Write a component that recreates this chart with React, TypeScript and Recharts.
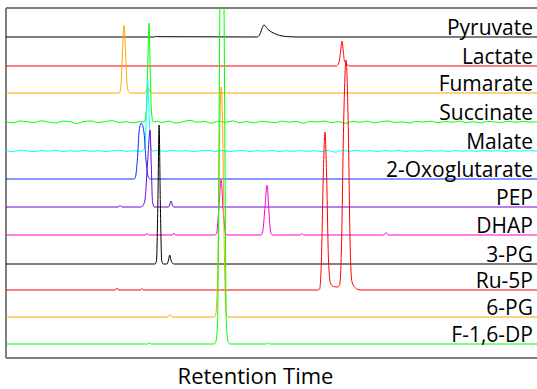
import * as React from 'react';
import { LineChart, Line, XAxis, YAxis, ReferenceLine } from 'recharts';

type Pt = [number, number]; // [retention time (min), signal]

// trace names, bottom to top
const NAMES = ['F-1,6-DP', '6-PG', 'Ru-5P', '3-PG', 'DHAP', 'PEP', '2-Oxoglutarate', 'Malate', 'Succinate', 'Fumarate', 'Lactate', 'Pyruvate'];
const COLORS = ['#00ff00', '#ffa500', '#ff0000', '#000000', '#ff00cc', '#7000e0', '#0033ff', '#00ffff', '#00ff00', '#ffa500', '#ff0000', '#000000'];
// baseline offset of each stacked trace
const OFFSETS = [0, 27, 54, 80, 109, 137, 165, 193, 222, 251, 278, 307];

const f16dp: Pt[] = [[0, 0], [8.0, 0], [8.08, 1], [8.2, 0], [11.75, 0], [11.85, 2], [11.95, 20], [12.05, 250], [12.1, 400], [12.2, 800], [12.3, 400], [12.35, 250], [12.45, 20], [12.55, 2], [12.65, 0], [14.7, 0], [14.78, 1.2], [14.9, 0], [30, 0]];
const pg6: Pt[] = [[0, 0], [9.15, 0], [9.27, 2.5], [9.4, 0], [11.75, 0], [11.85, 3], [11.98, 60], [12.08, 190], [12.16, 230], [12.24, 190], [12.34, 60], [12.44, 3], [12.55, 0], [30, 0]];
const ru5p: Pt[] = [[0, 0], [6.18, 0], [6.27, 2], [6.36, 0], [7.6, 0], [7.68, 1.5], [7.76, 0], [17.6, 0], [17.72, 1], [17.82, 30], [17.92, 110], [18.02, 158], [18.12, 110], [18.22, 30], [18.33, 7], [18.5, 3.5], [18.7, 3], [18.85, 5], [18.95, 40], [19.08, 170], [19.21, 230], [19.33, 170], [19.45, 40], [19.55, 8], [19.75, 2], [20.0, 0], [30, 0]];
const pg3: Pt[] = [[0, 0], [8.42, 0], [8.5, 3], [8.58, 60], [8.65, 139], [8.72, 60], [8.8, 3], [8.88, 0], [9.1, 0], [9.18, 4], [9.25, 9], [9.32, 4], [9.42, 0.5], [9.5, 0], [30, 0]];
const dhap: Pt[] = [[0, 0], [7.88, 0], [7.97, 1.5], [8.06, 0], [9.4, 0], [9.49, 2], [9.58, 0], [11.8, 0], [11.9, 2], [12.02, 25], [12.15, 55], [12.27, 25], [12.4, 2], [12.5, 0], [14.4, 0], [14.5, 3], [14.62, 25], [14.75, 50], [14.85, 25], [14.95, 3], [15.05, 0], [16.62, 0], [16.72, 1.5], [16.82, 0], [21.35, 0], [21.47, 2.5], [21.6, 0], [30, 0]];
const pep: Pt[] = [[0, 0], [6.35, 0], [6.44, 1.5], [6.55, 0], [7.6, 0], [7.72, 1], [7.85, 7], [8.0, 45], [8.14, 77], [8.21, 40], [8.28, 5], [8.38, 0], [9.18, 0], [9.26, 3], [9.32, 6], [9.38, 3], [9.48, 0], [30, 0]];
const oxoglutarate: Pt[] = [[0, 0], [7.22, 0], [7.3, 1], [7.42, 19], [7.53, 49], [7.64, 56], [7.8, 46], [7.91, 19], [8.04, 2], [8.15, 0], [30, 0]];
const malate: Pt[] = [[0, 0.3], [0.4, -0.5], [0.8, 0.8], [1.2, 0], [1.6, -0.6], [2.0, 0.5], [2.4, -0.2], [2.8, 0.7], [3.2, -0.5], [3.6, 0.2], [4.0, -0.4], [4.4, 0.6], [4.8, -0.3], [5.2, 0.4], [5.6, -0.6], [6.0, 0.3], [6.4, 0.7], [6.8, -0.4], [7.2, 0.2], [7.6, -0.3], [7.75, 0], [7.87, 10], [7.95, 45], [8.01, 71], [8.07, 45], [8.14, 10], [8.25, 0], [8.6, 0.5], [9.0, -0.4], [9.4, 0.6], [9.8, -0.2], [10.2, 0.4], [10.6, -0.7], [11.0, 0.3], [11.4, 0.6], [11.8, -0.4], [12.2, 0.5], [12.6, -0.8], [13.0, 0.2], [13.4, 0.5], [13.8, -0.5], [14.2, 0.3], [14.6, -0.2], [15.0, 0.6], [15.4, -0.5], [15.8, 0.2], [16.2, -0.3], [16.6, 0.5], [17.0, -0.4], [17.4, 0.3], [17.8, -0.6], [18.2, 0.4], [18.6, -1.2], [19.0, 0.5], [19.4, -0.3], [19.8, 0.6], [20.2, -0.2], [20.6, 0.3], [21.0, -0.5], [21.4, 0.4], [21.8, -0.1], [22.2, 0.5], [22.6, -0.4], [23.0, 0.2], [23.4, -0.3], [23.8, 0.5], [24.2, -0.2], [24.6, 0.3], [25.0, -0.5], [25.4, 0.4], [25.8, -0.2], [26.2, 0.3], [26.6, -0.4], [27.0, 0.5], [27.4, -0.1], [27.8, 0.3], [28.2, -0.4], [28.6, 0.4], [29.0, -0.2], [29.4, 0.3], [30, 0]];
const succinate: Pt[] = [[0, 0.5], [0.4, -0.8], [0.8, 1.0], [1.2, 0.2], [1.6, -0.5], [2.0, 1.2], [2.4, 0], [2.8, -1.0], [3.2, 0.8], [3.6, 0.3], [4.0, -1.5], [4.4, 0.4], [4.8, 1.0], [5.2, -0.6], [5.6, 0.5], [6.0, 1.3], [6.4, -0.4], [6.8, 0.2], [7.2, -0.8], [7.6, 0.6], [7.8, 0], [7.92, 10], [8.0, 50], [8.08, 99], [8.15, 50], [8.22, 10], [8.32, 0], [8.5, 0.9], [8.8, -0.5], [9.2, 0.8], [9.6, -1.0], [10.0, 0.3], [10.4, 1.6], [10.8, -0.2], [11.2, 0.6], [11.6, -1.2], [12.0, 0.8], [12.4, -0.3], [12.8, 1.1], [13.2, -0.6], [13.6, 0.4], [14.0, -0.9], [14.4, 0.7], [14.8, 0.1], [15.2, -0.7], [15.6, 0.9], [16.0, -0.2], [16.4, 0.5], [16.8, -1.1], [17.2, 0.6], [17.6, 0], [18.0, 1.0], [18.4, -0.6], [18.8, 0.3], [19.2, -1.3], [19.6, 0.7], [20.0, -0.3], [20.4, 0.9], [20.8, -0.8], [21.2, 0.4], [21.6, 1.0], [22.0, -0.5], [22.4, 0.2], [22.8, -0.9], [23.2, 0.6], [23.6, 0], [24.0, 0.8], [24.4, -0.7], [24.8, 0.5], [25.2, -0.3], [25.6, 0.9], [26.0, -0.6], [26.4, 0.3], [26.8, -0.9], [27.2, 0.7], [27.6, 0.1], [28.0, -0.5], [28.4, 0.8], [28.8, -0.4], [29.2, 0.6], [29.6, -0.2], [30, 0.3]];
const fumarate: Pt[] = [[0, 0], [6.4, 0], [6.5, 8], [6.58, 40], [6.67, 68], [6.76, 40], [6.84, 8], [6.95, 0.5], [7.05, 0], [7.85, 0], [7.97, 4], [8.05, 5], [8.15, 1], [8.3, 0], [30, 0]];
const lactate: Pt[] = [[0, 0], [18.65, 0], [18.8, 3], [18.9, 14], [18.98, 25], [19.06, 14], [19.12, 5], [19.2, 3], [19.35, 0.5], [19.5, 0], [30, 0]];
const pyruvate: Pt[] = [[0, 0], [8.4, 0], [8.48, 0.7], [8.6, 0.3], [14.2, 0], [14.32, 2], [14.58, 12], [14.75, 8.5], [15.0, 5], [15.3, 2.5], [15.6, 1], [16.1, 0.2], [16.5, 0], [30, 0]];

const TRACES = [f16dp, pg6, ru5p, pg3, dhap, pep, oxoglutarate, malate, succinate, fumarate, lactate, pyruvate];

const FONT = '"Open Sans", sans-serif';

const traceLabel = (name: string) => ({ viewBox }: any) => (
  <text
    x={viewBox.x + viewBox.width - 4}
    y={viewBox.y - 2.5}
    textAnchor="end"
    fontFamily={FONT}
    fontSize={21}
    fill="#000"
  >
    {name}
  </text>
);

export default function App() {
  // draw top traces first so the lower ones sit above them
  const order = TRACES.map((_, i) => i).reverse();
  return (
    <div style={{ position: 'absolute', left: 0, top: 0, background: '#fff' }}>
      <LineChart width={537} height={389} margin={{ top: 8, right: 0, bottom: 0, left: 6 }}>
        <XAxis
          dataKey="t"
          type="number"
          domain={[0, 30]}
          allowDataOverflow
          height={31}
          tick={false}
          tickLine={false}
          axisLine={{ stroke: '#7f7f7f', strokeWidth: 2 }}
          label={{
            content: ({ viewBox }: any) => (
              <text
                x={viewBox.x + viewBox.width / 2 - 16}
                y={viewBox.y + viewBox.height - 5}
                textAnchor="middle"
                fontFamily={FONT}
                fontSize={22}
                fill="#000"
              >
                Retention Time
              </text>
            ),
          }}
        />
        <YAxis type="number" domain={[-14, 336]} allowDataOverflow width={0} hide />
        <ReferenceLine y={336} stroke="#555" strokeWidth={1.3} />
        <ReferenceLine x={0} stroke="#7f7f7f" strokeWidth={2} />
        {order.map((i) => (
          <Line
            key={NAMES[i]}
            data={TRACES[i].map(([t, v]) => ({ t, v: v + OFFSETS[i] }))}
            dataKey="v"
            type="monotone"
            stroke={COLORS[i]}
            strokeWidth={1}
            dot={false}
            activeDot={false}
            isAnimationActive={false}
          />
        ))}
        {OFFSETS.map((o, i) => (
          <ReferenceLine key={'lab' + i} y={o} stroke="none" label={{ content: traceLabel(NAMES[i]) }} />
        ))}
      </LineChart>
    </div>
  );
}
